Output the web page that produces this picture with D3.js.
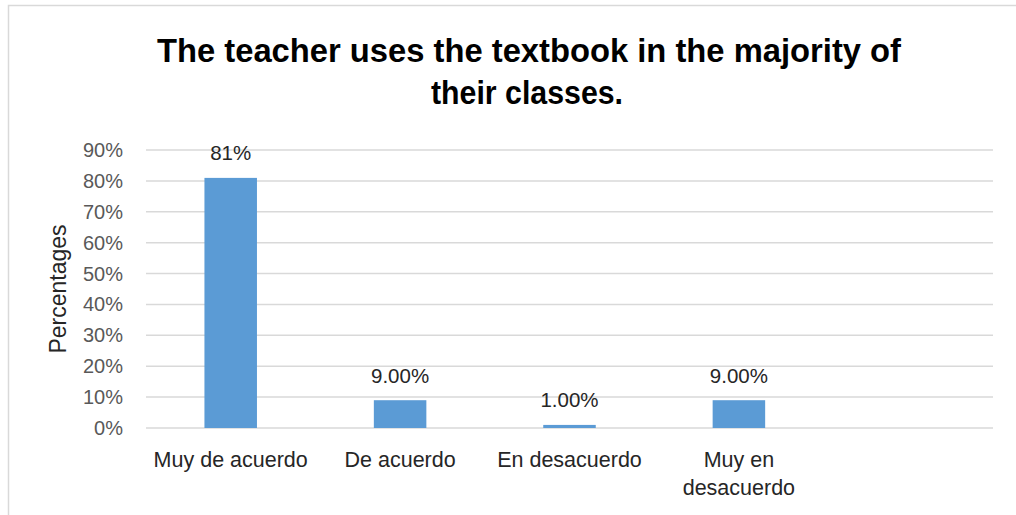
<!DOCTYPE html>
<html>
<head>
<meta charset="utf-8">
<script src="https://cdn.jsdelivr.net/npm/d3@7"></script>
<style>
  html, body { margin: 0; padding: 0; background: #fff; }
  svg { display: block; font-family: "Liberation Sans", Arial, sans-serif; }
</style>
</head>
<body>
<svg id="chart" width="1016" height="515"></svg>
<script>
// ---- data ----
const categories = ["Muy de acuerdo", "De acuerdo", "En desacuerdo", "Muy en desacuerdo", ""];
const values = [81, 9, 1, 9];
const valueLabels = ["81%", "9.00%", "1.00%", "9.00%"];
const yTicks = [0, 10, 20, 30, 40, 50, 60, 70, 80, 90];
const titleLines = ["The teacher uses the textbook in the majority of", "their classes."];
const yAxisTitle = "Percentages";

// ---- layout ----
const W = 1016, H = 515;
const plot = { left: 146, right: 993, top: 150.1, bottom: 428 };

const svg = d3.select("#chart");
svg.append("rect").attr("width", W).attr("height", H).attr("fill", "#fff");

// chart border (right and bottom edges fall outside the view)
svg.append("rect")
  .attr("x", 8.5).attr("y", 5.5)
  .attr("width", W + 20).attr("height", H + 20)
  .attr("fill", "none").attr("stroke", "#D9D9D9").attr("stroke-width", 1.5);

const x = d3.scaleBand()
  .domain(categories)
  .range([plot.left, plot.right])
  .paddingInner(0.69)
  .paddingOuter(0.345);

const y = d3.scaleLinear()
  .domain([0, 90])
  .range([plot.bottom, plot.top]);

// gridlines
svg.append("g")
  .selectAll("line")
  .data(yTicks)
  .join("line")
  .attr("x1", plot.left).attr("x2", plot.right)
  .attr("y1", d => y(d)).attr("y2", d => y(d))
  .attr("stroke", "#D9D9D9").attr("stroke-width", 1.5);

// y axis tick labels
const yAxis = d3.axisLeft(y)
  .tickValues(yTicks)
  .tickFormat(d => d + "%")
  .tickSize(0)
  .tickPadding(23);
const gy = svg.append("g")
  .attr("transform", `translate(${plot.left},0)`)
  .call(yAxis);
gy.select(".domain").remove();
gy.selectAll("text")
  .attr("font-family", "Liberation Sans, Arial, sans-serif")
  .attr("font-size", 20)
  .attr("fill", "#595959");

// bars
const barData = values.map((v, i) => ({ cat: categories[i], v, label: valueLabels[i] }));
svg.append("g")
  .selectAll("rect")
  .data(barData)
  .join("rect")
  .attr("x", d => x(d.cat))
  .attr("width", x.bandwidth())
  .attr("y", d => y(d.v))
  .attr("height", d => y(0) - y(d.v))
  .attr("fill", "#5B9BD5");

// data labels
svg.append("g")
  .selectAll("text")
  .data(barData)
  .join("text")
  .attr("x", d => x(d.cat) + x.bandwidth() / 2)
  .attr("y", d => y(d.v) - 17.5)
  .attr("text-anchor", "middle")
  .attr("font-size", 20.5)
  .attr("fill", "#262626")
  .text(d => d.label);

// category labels (wrapped to band step)
const gx = svg.append("g");
categories.forEach(c => {
  if (!c) return;
  const t = gx.append("text")
    .attr("x", x(c) + x.bandwidth() / 2)
    .attr("y", plot.bottom + 39)
    .attr("text-anchor", "middle")
    .attr("font-size", 21.5)
    .attr("fill", "#262626");
  const words = c.split(" ");
  let line = [];
  let tspan = t.append("tspan").attr("x", x(c) + x.bandwidth() / 2).attr("dy", 0);
  words.forEach(w => {
    line.push(w);
    tspan.text(line.join(" "));
    if (tspan.node().getComputedTextLength() > x.step() - 2 && line.length > 1) {
      line.pop();
      tspan.text(line.join(" "));
      line = [w];
      tspan = t.append("tspan").attr("x", x(c) + x.bandwidth() / 2).attr("dy", 28).text(w);
    }
  });
});

// y axis title
svg.append("text")
  .attr("transform", `translate(66,${(plot.top + plot.bottom) / 2}) rotate(-90)`)
  .attr("text-anchor", "middle")
  .attr("font-size", 23)
  .attr("fill", "#262626")
  .text(yAxisTitle);

// title
const titleCx = [529, 527];
const titleBaselines = [62, 104];
const titleTargetWidths = [744, 192];
titleLines.forEach((l, i) => {
  const t = svg.append("text")
    .attr("x", titleCx[i])
    .attr("y", titleBaselines[i])
    .attr("text-anchor", "middle")
    .attr("font-size", 34)
    .attr("font-weight", "bold")
    .attr("fill", "#000")
    .text(l);
  const w = t.node().getComputedTextLength();
  if (w > titleTargetWidths[i]) {
    t.attr("textLength", titleTargetWidths[i]).attr("lengthAdjust", "spacingAndGlyphs");
  }
});
</script>
</body>
</html>
